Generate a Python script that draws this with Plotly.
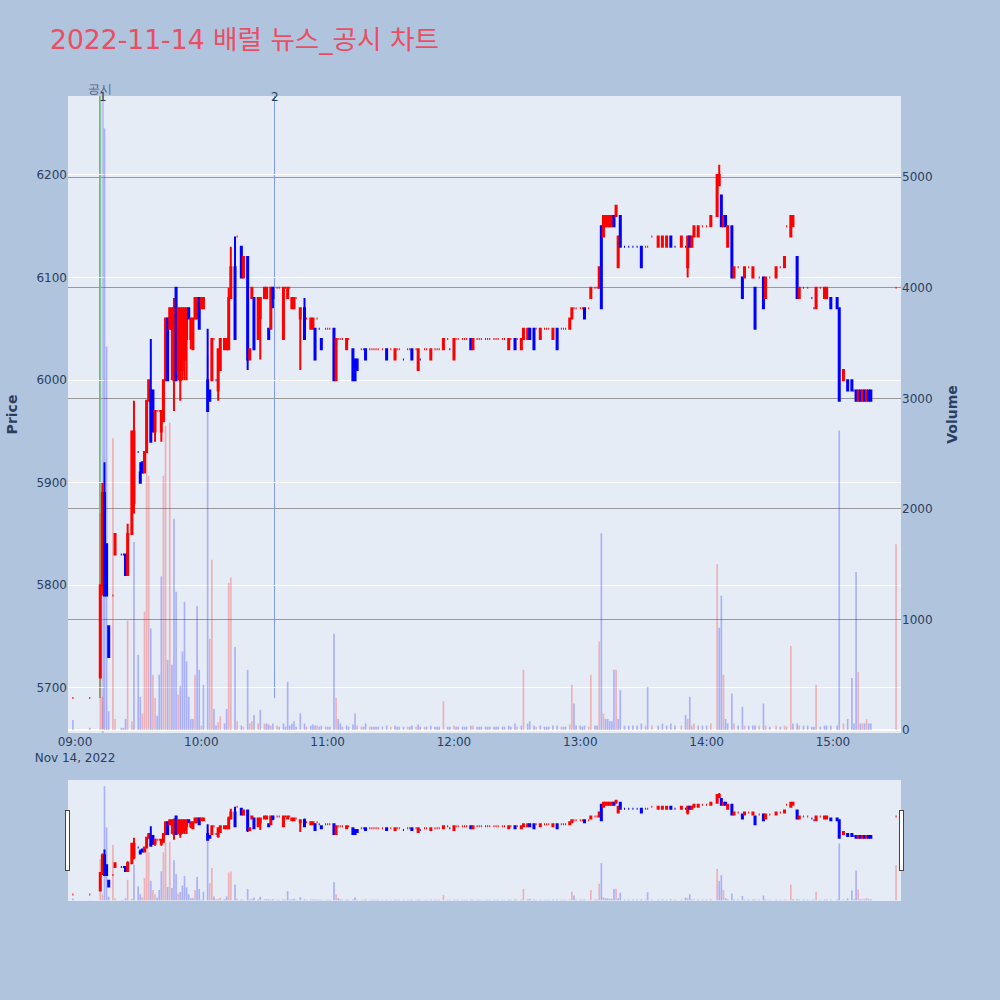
import plotly.graph_objects as go

DAY = "2022-11-14"

times = [
    "08:59", "09:07", "09:12", "09:13", "09:14", "09:15", "09:16", "09:18", "09:19", "09:22",
    "09:23", "09:24", "09:25", "09:27", "09:28", "09:30", "09:31", "09:32", "09:33", "09:34",
    "09:35", "09:36", "09:37", "09:38", "09:39", "09:40", "09:41", "09:42", "09:43", "09:44",
    "09:45", "09:46", "09:47", "09:48", "09:49", "09:50", "09:51", "09:52", "09:53", "09:54",
    "09:55", "09:56", "09:57", "09:58", "09:59", "10:00", "10:01", "10:03", "10:04", "10:05",
    "10:06", "10:07", "10:08", "10:09", "10:11", "10:12", "10:13", "10:14", "10:16", "10:17",
    "10:19", "10:20", "10:22", "10:23", "10:24", "10:25", "10:27", "10:28", "10:30", "10:31",
    "10:32", "10:33", "10:34", "10:36", "10:37", "10:39", "10:40", "10:41", "10:42", "10:43",
    "10:44", "10:45", "10:47", "10:49", "10:50", "10:52", "10:53", "10:54", "10:55", "10:56",
    "10:57", "10:59", "11:00", "11:01", "11:03", "11:04", "11:05", "11:06", "11:07", "11:09",
    "11:10", "11:12", "11:13", "11:14", "11:16", "11:17", "11:18", "11:20", "11:21", "11:22",
    "11:23", "11:24", "11:26", "11:28", "11:30", "11:32", "11:33", "11:34", "11:36", "11:38",
    "11:39", "11:40", "11:42", "11:43", "11:44", "11:46", "11:47", "11:49", "11:51", "11:52",
    "11:53", "11:55", "11:57", "11:58", "12:00", "12:01", "12:02", "12:04", "12:05", "12:06",
    "12:08", "12:09", "12:11", "12:12", "12:13", "12:15", "12:16", "12:17", "12:19", "12:20",
    "12:21", "12:23", "12:24", "12:26", "12:27", "12:29", "12:30", "12:32", "12:33", "12:35",
    "12:36", "12:38", "12:39", "12:41", "12:43", "12:44", "12:45", "12:47", "12:49", "12:51",
    "12:52", "12:53", "12:55", "12:56", "12:57", "12:58", "13:00", "13:01", "13:02", "13:04",
    "13:05", "13:07", "13:08", "13:09", "13:10", "13:11", "13:12", "13:13", "13:14", "13:15",
    "13:16", "13:17", "13:18", "13:19", "13:21", "13:23", "13:25", "13:27", "13:29", "13:31",
    "13:32", "13:34", "13:37", "13:39", "13:41", "13:43", "13:45", "13:48", "13:50", "13:51",
    "13:52", "13:53", "13:54", "13:56", "13:58", "14:00", "14:02", "14:05", "14:06", "14:07",
    "14:08", "14:09", "14:10", "14:12", "14:13", "14:15", "14:17", "14:18", "14:20", "14:22",
    "14:23", "14:25", "14:27", "14:28", "14:30", "14:33", "14:35", "14:37", "14:38", "14:40",
    "14:41", "14:43", "14:44", "14:46", "14:48", "14:50", "14:51", "14:52", "14:54", "14:56",
    "14:57", "14:59", "15:02", "15:03", "15:05", "15:07", "15:09", "15:10", "15:11", "15:12",
    "15:13", "15:14", "15:15", "15:16", "15:17", "15:18", "15:30",
]

opens = [
    5690, 5690, 5710, 5800, 5890, 5840, 5760, 5790, 5830, 5830,
    5830, 5830, 5810, 5850, 5880, 5930, 5910, 5920, 5910, 5930,
    5980, 5990, 5990, 5950, 5970, 5970, 5950, 5960, 6000, 6060,
    6050, 6050, 6000, 6090, 6010, 6000, 6010, 6020, 6040, 6070,
    6040, 6030, 6060, 6060, 6080, 6070, 6070, 6000, 5990, 6000,
    6040, 6000, 5990, 6010, 6030, 6030, 6030, 6080, 6110, 6140,
    6130, 6100, 6120, 6020, 6080, 6080, 6040, 6060, 6080, 6080,
    6050, 6050, 6090, 6090, 6090, 6040, 6090, 6080, 6090, 6070,
    6070, 6080, 6060, 6070, 6060, 6050, 6050, 6050, 6060, 6050,
    6040, 6050, 6050, 6050, 6050, 6000, 6040, 6040, 6040, 6030,
    6040, 6030, 6020, 6020, 6030, 6030, 6030, 6030, 6030, 6030,
    6030, 6030, 6030, 6030, 6030, 6020, 6030, 6030, 6020, 6030,
    6030, 6030, 6030, 6010, 6020, 6030, 6030, 6020, 6030, 6030,
    6030, 6030, 6040, 6030, 6020, 6040, 6040, 6040, 6040, 6040,
    6040, 6030, 6040, 6040, 6040, 6040, 6040, 6040, 6040, 6040,
    6040, 6040, 6040, 6030, 6040, 6040, 6040, 6030, 6040, 6040,
    6050, 6050, 6050, 6040, 6050, 6050, 6050, 6040, 6050, 6050,
    6050, 6050, 6050, 6060, 6070, 6070, 6070, 6070, 6070, 6070,
    6080, 6090, 6090, 6090, 6150, 6140, 6150, 6150, 6150, 6150,
    6160, 6160, 6110, 6160, 6130, 6130, 6130, 6130, 6130, 6130,
    6130, 6140, 6130, 6130, 6130, 6140, 6130, 6130, 6130, 6110,
    6140, 6130, 6140, 6140, 6150, 6150, 6150, 6160, 6190, 6180,
    6150, 6160, 6130, 6150, 6100, 6110, 6100, 6100, 6110, 6100,
    6090, 6100, 6100, 6080, 6100, 6100, 6110, 6110, 6150, 6140,
    6150, 6120, 6080, 6090, 6090, 6080, 6070, 6070, 6090, 6080,
    6080, 6080, 6080, 6070, 6000, 6000, 6000, 5990, 5990, 5980,
    5990, 5980, 5990, 5980, 5990, 5990, 6090,
]

highs = [
    5690, 5690, 5800, 5900, 5920, 5840, 5760, 5790, 5850, 5830,
    5830, 5830, 5860, 5950, 5980, 5930, 5920, 5920, 5930, 5980,
    6000, 6040, 5990, 5970, 5970, 5970, 5970, 6000, 6060, 6060,
    6070, 6070, 6080, 6090, 6070, 6070, 6070, 6070, 6070, 6070,
    6060, 6060, 6080, 6080, 6080, 6080, 6080, 6050, 5990, 6040,
    6040, 6000, 6030, 6040, 6040, 6040, 6090, 6130, 6140, 6140,
    6130, 6120, 6120, 6030, 6090, 6080, 6080, 6080, 6090, 6090,
    6050, 6090, 6090, 6090, 6090, 6090, 6090, 6090, 6090, 6080,
    6080, 6080, 6070, 6080, 6060, 6060, 6060, 6050, 6060, 6050,
    6040, 6050, 6050, 6050, 6050, 6040, 6040, 6040, 6040, 6040,
    6040, 6030, 6020, 6020, 6030, 6030, 6030, 6030, 6030, 6030,
    6030, 6030, 6030, 6030, 6030, 6030, 6030, 6030, 6020, 6030,
    6030, 6030, 6030, 6030, 6020, 6030, 6030, 6030, 6030, 6030,
    6030, 6040, 6040, 6030, 6040, 6040, 6040, 6040, 6040, 6040,
    6040, 6040, 6040, 6040, 6040, 6040, 6040, 6040, 6040, 6040,
    6040, 6040, 6040, 6040, 6040, 6040, 6040, 6040, 6050, 6050,
    6050, 6050, 6050, 6050, 6050, 6050, 6050, 6050, 6050, 6050,
    6050, 6050, 6060, 6070, 6070, 6070, 6070, 6070, 6070, 6070,
    6090, 6090, 6090, 6110, 6150, 6160, 6160, 6160, 6160, 6160,
    6160, 6170, 6140, 6160, 6130, 6130, 6130, 6130, 6130, 6130,
    6130, 6140, 6140, 6140, 6140, 6140, 6130, 6140, 6130, 6140,
    6140, 6140, 6150, 6150, 6150, 6150, 6160, 6200, 6210, 6180,
    6160, 6160, 6150, 6150, 6110, 6110, 6100, 6110, 6110, 6110,
    6090, 6100, 6100, 6100, 6100, 6110, 6110, 6120, 6150, 6160,
    6160, 6120, 6090, 6090, 6090, 6080, 6070, 6090, 6090, 6090,
    6090, 6080, 6080, 6070, 6010, 6000, 6000, 5990, 5990, 5990,
    5990, 5990, 5990, 5990, 5990, 5990, 6090,
]

lows = [
    5690, 5690, 5710, 5790, 5790, 5790, 5730, 5790, 5830, 5830,
    5830, 5810, 5810, 5850, 5870, 5930, 5900, 5910, 5910, 5930,
    5980, 5940, 5950, 5940, 5970, 5970, 5940, 5960, 6000, 6000,
    6050, 6000, 5970, 6000, 6000, 5980, 6000, 6000, 6000, 6060,
    6030, 6030, 6060, 6060, 6050, 6070, 6070, 5970, 5980, 6000,
    6040, 6000, 5980, 6010, 6030, 6030, 6030, 6080, 6040, 6140,
    6100, 6100, 6010, 6020, 6080, 6030, 6040, 6020, 6080, 6080,
    6040, 6050, 6070, 6090, 6090, 6040, 6090, 6080, 6090, 6070,
    6070, 6080, 6010, 6040, 6060, 6050, 6050, 6020, 6060, 6050,
    6030, 6050, 6050, 6050, 6000, 6000, 6040, 6040, 6040, 6030,
    6040, 6000, 6000, 6010, 6030, 6030, 6020, 6030, 6030, 6030,
    6030, 6030, 6030, 6020, 6030, 6020, 6030, 6030, 6020, 6030,
    6030, 6020, 6030, 6010, 6020, 6030, 6030, 6020, 6030, 6030,
    6030, 6030, 6040, 6030, 6020, 6040, 6040, 6040, 6040, 6040,
    6030, 6030, 6040, 6040, 6040, 6040, 6040, 6040, 6040, 6040,
    6040, 6040, 6040, 6030, 6040, 6030, 6040, 6030, 6040, 6040,
    6040, 6030, 6050, 6040, 6050, 6050, 6050, 6040, 6030, 6050,
    6050, 6050, 6050, 6060, 6070, 6070, 6070, 6070, 6060, 6070,
    6080, 6090, 6090, 6090, 6070, 6140, 6150, 6150, 6150, 6150,
    6150, 6160, 6110, 6130, 6130, 6130, 6130, 6130, 6110, 6130,
    6130, 6140, 6130, 6130, 6130, 6130, 6130, 6130, 6130, 6100,
    6130, 6130, 6140, 6140, 6150, 6150, 6150, 6160, 6190, 6150,
    6150, 6150, 6130, 6100, 6100, 6110, 6080, 6100, 6110, 6100,
    6050, 6100, 6070, 6080, 6100, 6100, 6110, 6110, 6150, 6140,
    6150, 6080, 6080, 6090, 6090, 6080, 6070, 6070, 6090, 6080,
    6080, 6070, 6070, 5980, 6000, 5990, 5990, 5990, 5980, 5980,
    5980, 5980, 5980, 5980, 5980, 5980, 6090,
]

closes = [
    5690, 5690, 5800, 5890, 5790, 5790, 5730, 5790, 5850, 5830,
    5830, 5810, 5850, 5950, 5950, 5930, 5900, 5910, 5930, 5980,
    6000, 5940, 5950, 5970, 5970, 5970, 5970, 6000, 6060, 6000,
    6070, 6070, 6070, 6000, 6070, 6070, 6070, 6070, 6070, 6060,
    6060, 6060, 6080, 6080, 6050, 6080, 6080, 5970, 5980, 6040,
    6040, 6000, 6030, 6040, 6040, 6040, 6080, 6110, 6040, 6140,
    6100, 6120, 6020, 6030, 6090, 6030, 6080, 6080, 6090, 6090,
    6040, 6090, 6080, 6090, 6090, 6090, 6090, 6090, 6090, 6080,
    6080, 6080, 6070, 6040, 6060, 6060, 6060, 6020, 6060, 6050,
    6030, 6050, 6050, 6050, 6000, 6040, 6040, 6040, 6040, 6040,
    6040, 6000, 6000, 6010, 6030, 6030, 6020, 6030, 6030, 6030,
    6030, 6030, 6030, 6020, 6030, 6030, 6030, 6030, 6020, 6030,
    6030, 6020, 6030, 6030, 6020, 6030, 6030, 6030, 6030, 6030,
    6030, 6040, 6040, 6030, 6040, 6040, 6040, 6040, 6040, 6040,
    6030, 6040, 6040, 6040, 6040, 6040, 6040, 6040, 6040, 6040,
    6040, 6040, 6040, 6040, 6040, 6030, 6040, 6040, 6050, 6050,
    6040, 6030, 6050, 6050, 6050, 6050, 6050, 6050, 6030, 6050,
    6050, 6050, 6060, 6070, 6070, 6070, 6070, 6070, 6060, 6070,
    6090, 6090, 6090, 6110, 6070, 6160, 6160, 6160, 6160, 6160,
    6150, 6170, 6140, 6130, 6130, 6130, 6130, 6130, 6110, 6130,
    6130, 6140, 6140, 6140, 6140, 6130, 6130, 6140, 6130, 6140,
    6130, 6140, 6150, 6150, 6150, 6150, 6160, 6200, 6200, 6150,
    6160, 6150, 6150, 6100, 6110, 6110, 6080, 6110, 6110, 6110,
    6050, 6100, 6070, 6100, 6100, 6110, 6110, 6120, 6150, 6160,
    6160, 6080, 6090, 6090, 6090, 6080, 6070, 6090, 6090, 6090,
    6090, 6070, 6070, 5980, 6010, 5990, 5990, 5990, 5980, 5990,
    5980, 5990, 5980, 5990, 5980, 5980, 6090,
]

volumes = [
    90, 20, 1960, 300, 5440, 3470, 170, 2640, 100, 20,
    20, 100, 990, 80, 1700, 680, 300, 150, 1070, 2500,
    2300, 920, 500, 290, 130, 500, 1390, 2300, 2750, 635,
    2780, 590, 1910, 1250, 320, 400, 710, 1160, 620, 300,
    100, 100, 500, 1120, 545, 40, 410, 3400, 825, 1540,
    190, 40, 70, 125, 60, 190, 1330, 1380, 750, 80,
    40, 30, 545, 60, 80, 135, 60, 180, 60, 60,
    50, 40, 60, 40, 30, 60, 30, 435, 40, 60,
    80, 30, 150, 60, 30, 40, 50, 40, 40, 30,
    40, 30, 30, 30, 870, 290, 100, 60, 30, 40,
    30, 50, 150, 40, 30, 30, 60, 30, 30, 30,
    30, 30, 30, 40, 30, 40, 30, 30, 30, 30,
    30, 40, 30, 50, 30, 30, 30, 40, 30, 30,
    30, 260, 30, 30, 40, 30, 30, 30, 30, 30,
    40, 40, 30, 30, 30, 30, 30, 30, 30, 30,
    30, 30, 30, 40, 30, 60, 30, 40, 545, 60,
    80, 40, 30, 40, 30, 30, 30, 40, 40, 30,
    30, 30, 50, 410, 240, 40, 40, 30, 40, 30,
    500, 40, 40, 800, 1780, 150, 100, 100, 80, 80,
    545, 545, 100, 360, 40, 40, 40, 40, 60, 40,
    390, 40, 40, 60, 40, 60, 40, 40, 135, 100,
    300, 40, 60, 40, 40, 40, 60, 1500, 925, 1215,
    500, 100, 60, 330, 60, 40, 210, 40, 40, 40,
    40, 40, 240, 40, 30, 40, 30, 40, 30, 760,
    60, 60, 40, 40, 40, 30, 30, 410, 30, 40,
    40, 40, 40, 2710, 60, 100, 470, 60, 1430, 525,
    60, 60, 60, 100, 60, 60, 1680,
]

# disclosure (공시) markers
disclosure_times = ["09:13:10", "10:34:45"]
disclosure_labels = ["1", "2"]
gongsi_time = "09:11:50"
gongsi_label = "공시"
price_floor = 5690

price_range = [5656, 6277]
volume_range = [-27, 5735]
x_range = ["08:56:40", "15:32:20"]

n = min(len(times), len(opens), len(highs), len(lows), len(closes), len(volumes))
x = [f"{DAY} {t}" for t in times[:n]]

vol_colors = []
prev = None
for c in closes[:n]:
    if prev is not None and c > prev:
        vol_colors.append("rgba(255,0,0,0.25)")
    else:
        vol_colors.append("rgba(0,0,255,0.25)")
    prev = c

fig = go.Figure()
fig.add_trace(go.Bar(
    x=x, y=volumes[:n], yaxis="y",
    marker=dict(color=vol_colors, line=dict(width=0)),
    name="Volume", showlegend=False,
))
fig.add_trace(go.Candlestick(
    x=x, open=opens[:n], high=highs[:n], low=lows[:n], close=closes[:n], yaxis="y2",
    increasing=dict(line=dict(color="red"), fillcolor="red"),
    decreasing=dict(line=dict(color="blue"), fillcolor="blue"),
    name="Price", showlegend=False,
))

shapes = [dict(type="line", xref="x", yref="y2",
               x0=f"{DAY} {gongsi_time}", x1=f"{DAY} {gongsi_time}",
               y0=price_floor, y1=price_range[1],
               line=dict(color="rgb(90,180,90)", width=1.5), layer="below")]
shapes.append(dict(type="line", xref="x", yref="paper",
                   x0=f"{DAY} {disclosure_times[0]}", x1=f"{DAY} {disclosure_times[0]}",
                   y0=0, y1=1, line=dict(color="rgba(110,130,250,0.35)", width=2.5), layer="below"))
shapes.append(dict(type="line", xref="x", yref="y2",
                   x0=f"{DAY} {disclosure_times[1]}", x1=f"{DAY} {disclosure_times[1]}",
                   y0=price_floor, y1=price_range[1],
                   line=dict(color="rgba(90,120,240,0.7)", width=1), layer="below"))

annotations = [dict(x=f"{DAY} {gongsi_time}", y=1, xref="x", yref="paper", text=gongsi_label,
                    showarrow=False, yanchor="bottom", yshift=-2,
                    font=dict(size=12, color="#506080"))]
for t, lab in zip(disclosure_times, disclosure_labels):
    annotations.append(dict(x=f"{DAY} {t}", y=1, xref="x", yref="paper", text=lab,
                            showarrow=False, yanchor="middle", yshift=-1,
                            font=dict(size=12, color="#2a3f5f")))

fig.update_layout(
    width=1000, height=1000,
    paper_bgcolor="#B0C4DE",
    plot_bgcolor="#E5ECF6",
    margin=dict(l=68, r=99, t=96, b=100),
    title=dict(text="2022-11-14 배럴 뉴스_공시 차트", x=0.05, xref="container", xanchor="left",
               y=0.96, yref="container", yanchor="middle",
               font=dict(family="DejaVu Sans, Noto Sans CJK KR", size=26.6, color="#E94E64")),
    font=dict(family="DejaVu Sans", size=12, color="#2a3f5f"),
    showlegend=False,
    bargap=0.2,
    shapes=shapes,
    annotations=annotations,
    xaxis=dict(type="date", range=[f"{DAY} {x_range[0]}", f"{DAY} {x_range[1]}"], showgrid=False,
               rangeslider=dict(visible=True, bgcolor="#E5ECF6",
                                range=[f"{DAY} {x_range[0]}", f"{DAY} {x_range[1]}"])),
    yaxis=dict(side="right", range=volume_range, dtick=1000, showgrid=True, gridcolor="#999999",
               zeroline=True, zerolinecolor="white", zerolinewidth=2,
               title=dict(text="<b>Volume</b>", font=dict(size=14))),
    yaxis2=dict(side="left", overlaying="y", range=price_range, dtick=100, showgrid=True,
                gridcolor="white", zeroline=False,
                title=dict(text="<b>Price</b>", font=dict(size=14))),
)

fig.write_html("out.html", config={"displayModeBar": False},
               post_script="document.body.style.margin='0px';")
